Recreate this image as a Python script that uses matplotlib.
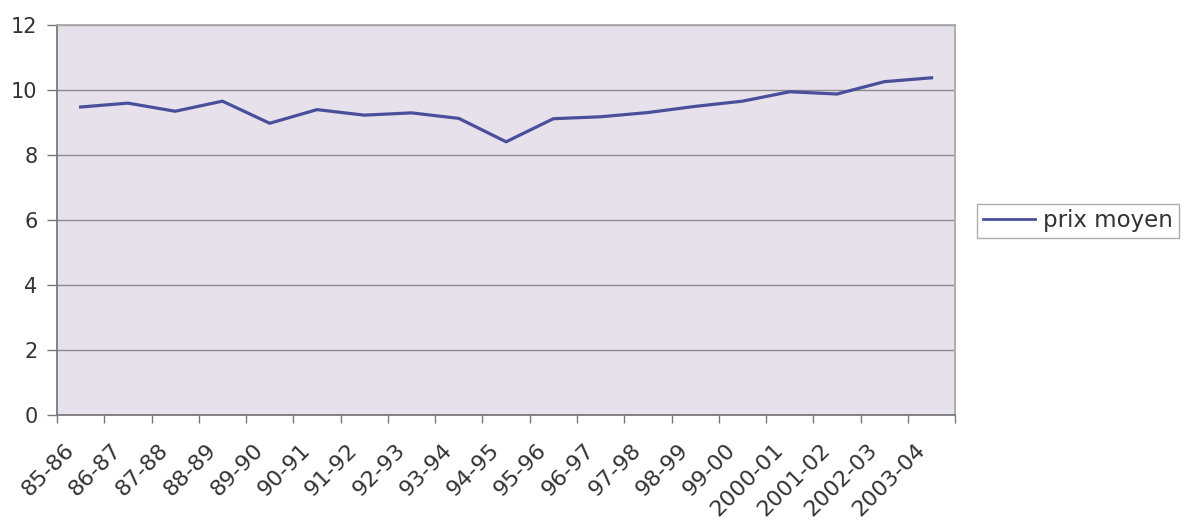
# Evolution du prix moyen par campagne (85-86 a 2003-04)
import numpy as np
import matplotlib.pyplot as plt
from matplotlib.transforms import ScaledTranslation

campagnes = ['85-86', '86-87', '87-88', '88-89', '89-90', '90-91', '91-92',
             '92-93', '93-94', '94-95', '95-96', '96-97', '97-98', '98-99',
             '99-00', '2000-01', '2001-02', '2002-03', '2003-04']
prix_moyen = [9.48, 9.60, 9.35, 9.66, 8.98, 9.40, 9.23, 9.30, 9.13, 8.41,
              9.12, 9.18, 9.31, 9.50, 9.66, 9.95, 9.88, 10.26, 10.38]
graduations_y = [0, 2, 4, 6, 8, 10, 12]

fig = plt.figure(figsize=(11.97, 5.24), dpi=100)
ax = fig.add_axes([0.0476, 0.208, 0.7504, 0.744])
ax.set_facecolor('#e7e1eb')

x = np.arange(len(campagnes))
ax.plot(x, prix_moyen, color='#4a4f9c', linewidth=2.3, label='prix moyen')

# Axe X : etiquettes inclinees, graduations entre les categories
ax.set_xlim(-0.5, len(campagnes) - 0.5)
ax.set_xticks(x)
ax.set_xticklabels(campagnes, rotation=45, ha='right', rotation_mode='anchor',
                   fontsize=16, color='#333333')
ax.tick_params(axis='x', which='major', length=0, pad=18)
decalage = ScaledTranslation(-0.17, 0, fig.dpi_scale_trans)
for lbl in ax.get_xticklabels():
    lbl.set_transform(lbl.get_transform() + decalage)
ax.set_xticks(np.arange(len(campagnes) + 1) - 0.5, minor=True)
ax.tick_params(axis='x', which='minor', length=6, width=1, color='#777777',
               direction='out')

# Axe Y
ax.set_ylim(0, 12)
ax.set_yticks(graduations_y)
ax.tick_params(axis='y', labelsize=15, labelcolor='#333333', length=7,
               width=1, color='#777777', pad=7)
ax.yaxis.grid(True, color='#8c8c8c', linewidth=1)
ax.set_axisbelow(True)

for cote in ('left', 'bottom'):
    ax.spines[cote].set_color('#7a7a7a')
    ax.spines[cote].set_linewidth(1.3)
for cote in ('top', 'right'):
    ax.spines[cote].set_color('#a8a8a8')
    ax.spines[cote].set_linewidth(1.3)

leg = fig.legend(loc='center left', bbox_to_anchor=(977 / 1197, 1 - 221 / 524),
                 fontsize=16.5, frameon=True, fancybox=False, borderpad=0.25,
                 handlelength=2.3, handletextpad=0.35, borderaxespad=0)
leg.get_frame().set_edgecolor('#9a9a9a')
leg.get_frame().set_linewidth(1)
leg.get_lines()[0].set_linewidth(2.0)
for t in leg.get_texts():
    t.set_color('#333333')

fig.savefig('out.png', dpi=100)
